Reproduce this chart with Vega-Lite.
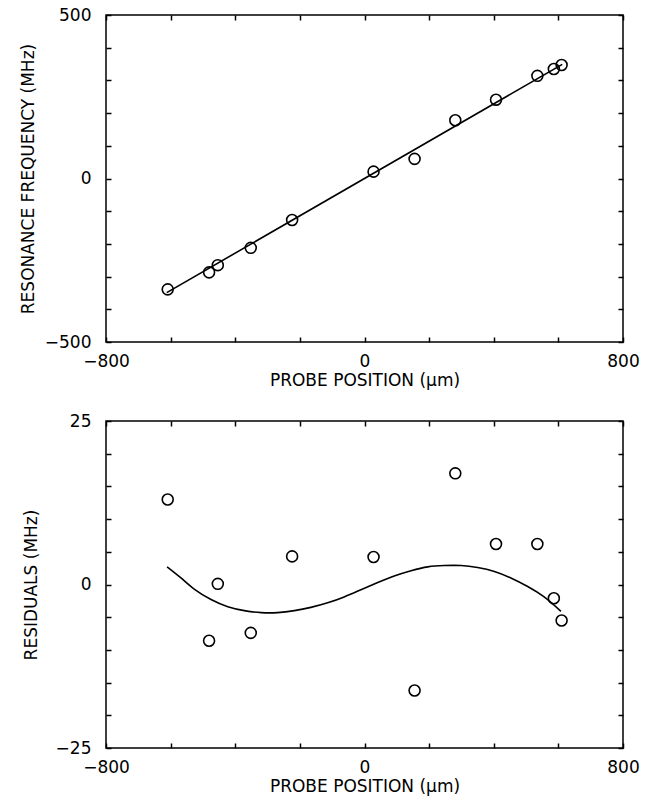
{
  "$schema": "https://vega.github.io/schema/vega-lite/v6.json",
  "padding": {"left": 18, "top": 5, "right": 5, "bottom": 5},
  "background": "white",
  "config": {
    "font": "DejaVu Sans",
    "view": {"stroke": "black", "strokeWidth": 1.5},
    "axis": {
      "domain": false, "grid": false, "tickColor": "black", "tickSize": -5, "tickWidth": 1.5,
      "labelFontSize": 17, "labelColor": "black", "titleFontSize": 17, "titleFontWeight": "normal",
      "titleColor": "black", "labelFlush": false
    },
    "axisX": {"labelPadding": 16},
    "axisY": {"labelPadding": 20}
  },
  "datasets": {
    "freq": [
      {"x": -609, "f": -339}, {"x": -481, "f": -287}, {"x": -454, "f": -265}, {"x": -352, "f": -212},
      {"x": -224, "f": -127}, {"x": 28, "f": 21}, {"x": 155, "f": 60}, {"x": 281, "f": 178},
      {"x": 407, "f": 241}, {"x": 535, "f": 314}, {"x": 586, "f": 335}, {"x": 610, "f": 347}
    ],
    "fit": [{"x": -612, "f": -349}, {"x": 612, "f": 349}],
    "resid": [
      {"x": -609, "r": 13.0}, {"x": -481, "r": -8.6}, {"x": -454, "r": 0.1}, {"x": -352, "r": -7.4},
      {"x": -224, "r": 4.3}, {"x": 28, "r": 4.2}, {"x": 155, "r": -16.2}, {"x": 281, "r": 17.0},
      {"x": 407, "r": 6.2}, {"x": 535, "r": 6.2}, {"x": 586, "r": -2.1}, {"x": 610, "r": -5.5}
    ],
    "curve": [
      {"x": -611, "r": 2.7}, {"x": -568, "r": 1.0}, {"x": -527, "r": -0.7}, {"x": -475, "r": -2.3},
      {"x": -423, "r": -3.4}, {"x": -372, "r": -4.0}, {"x": -320, "r": -4.3}, {"x": -269, "r": -4.3},
      {"x": -217, "r": -4.0}, {"x": -166, "r": -3.5}, {"x": -114, "r": -2.8}, {"x": -63, "r": -1.9},
      {"x": -11, "r": -0.8}, {"x": 41, "r": 0.3}, {"x": 92, "r": 1.3}, {"x": 144, "r": 2.1},
      {"x": 196, "r": 2.7}, {"x": 247, "r": 2.9}, {"x": 299, "r": 2.9}, {"x": 350, "r": 2.6},
      {"x": 402, "r": 2.0}, {"x": 453, "r": 1.0}, {"x": 505, "r": -0.3}, {"x": 556, "r": -1.9},
      {"x": 608, "r": -4.1}
    ]
  },
  "spacing": 22,
  "vconcat": [
    {
      "width": 517, "height": 327,
      "layer": [
        {
          "data": {"name": "freq"},
          "mark": {"type": "point", "shape": "circle", "size": 120, "stroke": "black", "strokeWidth": 1.6, "filled": false, "opacity": 1},
          "encoding": {
            "x": {"field": "x", "type": "quantitative", "scale": {"domain": [-800, 800], "nice": false},
              "axis": {"orient": "bottom", "title": "PROBE POSITION (μm)", "values": [-800, -600, -400, -200, 0, 200, 400, 600, 800],
                "labelExpr": "datum.value % 800 == 0 ? datum.label : ''", "titlePadding": 3}},
            "y": {"field": "f", "type": "quantitative", "scale": {"domain": [-500, 500], "nice": false},
              "axis": {"orient": "left", "title": "RESONANCE FREQUENCY (MHz)", "values": [-500, -400, -300, -200, -100, 0, 100, 200, 300, 400, 500],
                "labelExpr": "datum.value % 500 == 0 ? datum.label : ''", "titlePadding": 7}}
          }
        },
        {
          "data": {"name": "fit"},
          "mark": {"type": "line", "color": "black", "strokeWidth": 1.6},
          "encoding": {
            "x": {"field": "x", "type": "quantitative", "axis": {"orient": "top", "labels": false, "title": null, "values": [-800, -600, -400, -200, 0, 200, 400, 600, 800]}},
            "y": {"field": "f", "type": "quantitative", "axis": {"orient": "right", "labels": false, "title": null, "values": [-500, -400, -300, -200, -100, 0, 100, 200, 300, 400, 500]}}
          }
        }
      ],
      "resolve": {"axis": {"x": "independent", "y": "independent"}}
    },
    {
      "width": 517, "height": 327,
      "layer": [
        {
          "data": {"name": "resid"},
          "mark": {"type": "point", "shape": "circle", "size": 120, "stroke": "black", "strokeWidth": 1.6, "filled": false, "opacity": 1},
          "encoding": {
            "x": {"field": "x", "type": "quantitative", "scale": {"domain": [-800, 800], "nice": false},
              "axis": {"orient": "bottom", "title": "PROBE POSITION (μm)", "values": [-800, -600, -400, -200, 0, 200, 400, 600, 800],
                "labelExpr": "datum.value % 800 == 0 ? datum.label : ''", "titlePadding": 3}},
            "y": {"field": "r", "type": "quantitative", "scale": {"domain": [-25, 25], "nice": false},
              "axis": {"orient": "left", "title": "RESIDUALS (MHz)", "values": [-25, -20, -15, -10, -5, 0, 5, 10, 15, 20, 25],
                "labelExpr": "datum.value % 25 == 0 ? datum.label : ''", "titlePadding": 15}}
          }
        },
        {
          "data": {"name": "curve"},
          "mark": {"type": "line", "color": "black", "strokeWidth": 1.6, "interpolate": "natural"},
          "encoding": {
            "x": {"field": "x", "type": "quantitative", "axis": {"orient": "top", "labels": false, "title": null, "values": [-800, -600, -400, -200, 0, 200, 400, 600, 800]}},
            "y": {"field": "r", "type": "quantitative", "axis": {"orient": "right", "labels": false, "title": null, "values": [-25, -20, -15, -10, -5, 0, 5, 10, 15, 20, 25]}}
          }
        }
      ],
      "resolve": {"axis": {"x": "independent", "y": "independent"}}
    }
  ]
}
